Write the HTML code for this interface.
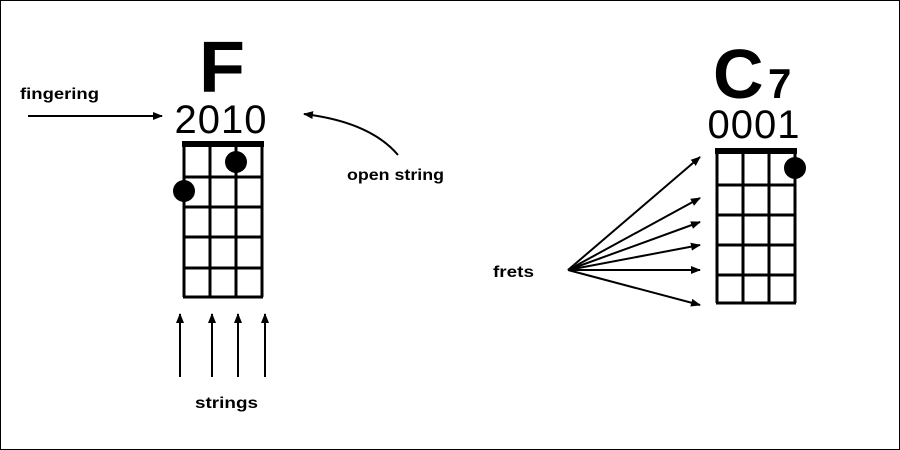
<!DOCTYPE html>
<html><head><meta charset="utf-8"><style>
html,body{margin:0;padding:0;background:#fff}
svg{display:block}
text{font-family:"Liberation Sans",sans-serif}
</style></head><body>
<svg width="900" height="450" viewBox="0 0 900 450" xmlns="http://www.w3.org/2000/svg">
<defs><marker id="a" markerWidth="10" markerHeight="8" refX="9" refY="4" orient="auto" markerUnits="userSpaceOnUse"><path d="M0,0 L10,4 L0,8 Z" fill="#000"/></marker></defs>
<rect x="0.5" y="0.5" width="899" height="449" fill="#fff" stroke="#000"/>
<!-- F chord -->
<text x="222" y="92" font-size="72" font-weight="bold" text-anchor="middle" transform="translate(222 0) scale(1.05 1) translate(-222 0)">F</text>
<text x="221" y="133" font-size="40" text-anchor="middle" letter-spacing="1">2010</text>
<g stroke="#000" stroke-width="3" fill="none">
<line x1="184" y1="145" x2="184" y2="297"/><line x1="210" y1="145" x2="210" y2="297"/><line x1="236" y1="145" x2="236" y2="297"/><line x1="262" y1="145" x2="262" y2="297"/>
<line x1="183" y1="177" x2="263" y2="177"/><line x1="183" y1="207" x2="263" y2="207"/><line x1="183" y1="237" x2="263" y2="237"/><line x1="183" y1="268" x2="263" y2="268"/><line x1="183" y1="297" x2="263" y2="297"/>
</g>
<rect x="182" y="141" width="82" height="6" fill="#000"/>
<circle cx="236" cy="162" r="11" fill="#000"/>
<circle cx="184" cy="191" r="11" fill="#000"/>
<!-- C7 chord -->
<text x="713" y="98" font-size="70" font-weight="bold">C</text>
<text x="768" y="98" font-size="42" font-weight="bold">7</text>
<text x="754" y="138" font-size="40" text-anchor="middle" letter-spacing="1">0001</text>
<g stroke="#000" stroke-width="3" fill="none">
<line x1="717" y1="150" x2="717" y2="303"/><line x1="743" y1="150" x2="743" y2="303"/><line x1="769" y1="150" x2="769" y2="303"/><line x1="795" y1="150" x2="795" y2="303"/>
<line x1="716" y1="185" x2="796" y2="185"/><line x1="716" y1="215" x2="796" y2="215"/><line x1="716" y1="245" x2="796" y2="245"/><line x1="716" y1="275" x2="796" y2="275"/><line x1="716" y1="303" x2="796" y2="303"/>
</g>
<rect x="715" y="148" width="82" height="6" fill="#000"/>
<circle cx="795" cy="168" r="11" fill="#000"/>
<!-- arrows -->
<g stroke="#000" stroke-width="2" fill="none" marker-end="url(#a)">
<line x1="28" y1="116" x2="162" y2="116"/>
<path d="M398,155 Q370,122 304,114"/>
<line x1="180" y1="377" x2="180" y2="314"/>
<line x1="212" y1="377" x2="212" y2="314"/>
<line x1="238" y1="377" x2="238" y2="314"/>
<line x1="265" y1="377" x2="265" y2="314"/>
<line x1="568" y1="270" x2="700" y2="157"/>
<line x1="568" y1="270" x2="700" y2="198"/>
<line x1="568" y1="270" x2="700" y2="222"/>
<line x1="568" y1="270" x2="700" y2="245"/>
<line x1="568" y1="270" x2="700" y2="270"/>
<line x1="568" y1="270" x2="700" y2="305"/>
</g>
<g font-size="16" font-weight="bold">
<text x="20" y="99" textLength="79" lengthAdjust="spacingAndGlyphs">fingering</text>
<text x="347" y="180" textLength="97" lengthAdjust="spacingAndGlyphs">open string</text>
<text x="195" y="408" textLength="63" lengthAdjust="spacingAndGlyphs">strings</text>
<text x="493" y="277" textLength="41" lengthAdjust="spacingAndGlyphs">frets</text>
</g>
</svg>
</body></html>
